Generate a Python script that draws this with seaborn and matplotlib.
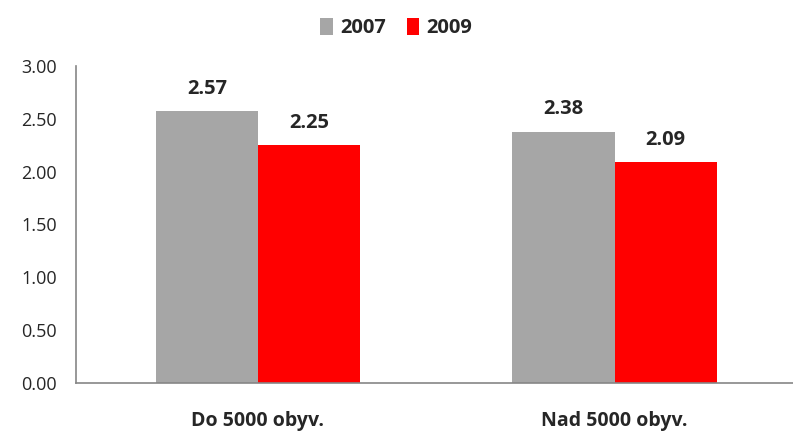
import pandas as pd
import matplotlib
matplotlib.use("Agg")
from matplotlib import pyplot as plt
import seaborn as sns

categories = ["Do 5000 obyv.", "Nad 5000 obyv."]
years = ["2007", "2009"]
values_2007 = [2.57, 2.38]
values_2009 = [2.25, 2.09]
colors = ["#A6A6A6", "#FF0000"]

df = pd.DataFrame({
    "kategorie": categories * 2,
    "rok": [years[0]] * 2 + [years[1]] * 2,
    "hodnota": values_2007 + values_2009,
})

sns.set_style("white")
plt.rcParams["font.family"] = ["Open Sans", "DejaVu Sans"]

fig = plt.figure(figsize=(7.93, 4.37), dpi=100)
ax = fig.add_axes([76 / 793, 1 - 383 / 437, 1 - 76 / 793, (383 - 66) / 437])

sns.barplot(data=df, x="kategorie", y="hodnota", hue="rok", palette=colors,
            width=0.573, gap=0, saturation=1, linewidth=0, ax=ax)

# popisky hodnot nad sloupci
for cont in ax.containers:
    for bar in cont:
        h = bar.get_height()
        ax.annotate(f"{h:.2f}", (bar.get_x() + bar.get_width() / 2, h),
                    xytext=(0, 9), textcoords="offset points",
                    ha="center", va="bottom", fontsize=14.5, fontweight="bold")

ax.set_ylim(0, 3)
ax.set_xlim(-0.51, 1.465)
ax.set_yticks([0, 0.5, 1, 1.5, 2, 2.5, 3])
ax.set_yticklabels([f"{v:.2f}" for v in ax.get_yticks()], fontsize=13)
ax.set_xticks([0, 1])
ax.set_xticklabels(categories, fontsize=14, fontweight="bold")
ax.set_xticks([-0.5, 0.5, 1.5], minor=True)
ax.tick_params(axis="x", which="major", length=0, pad=20)
ax.tick_params(axis="x", which="minor", length=5, color="#868686", width=1.2)
ax.tick_params(axis="y", length=4.5, color="#868686", width=1.2, pad=9)
ax.set_xlabel("")
ax.set_ylabel("")

for side in ["top", "right"]:
    ax.spines[side].set_visible(False)
for side in ["left", "bottom"]:
    ax.spines[side].set_color("#868686")
    ax.spines[side].set_linewidth(1.2)

sns.move_legend(ax, "upper center", bbox_to_anchor=(0.5, 1.0), bbox_transform=fig.transFigure,
                ncol=2, frameon=False, title=None, fontsize=14.5,
                handlelength=0.6, handleheight=0.9, columnspacing=1.0, handletextpad=0.4)
for t in ax.get_legend().get_texts():
    t.set_fontweight("bold")

fig.savefig("out.png", dpi=100)
